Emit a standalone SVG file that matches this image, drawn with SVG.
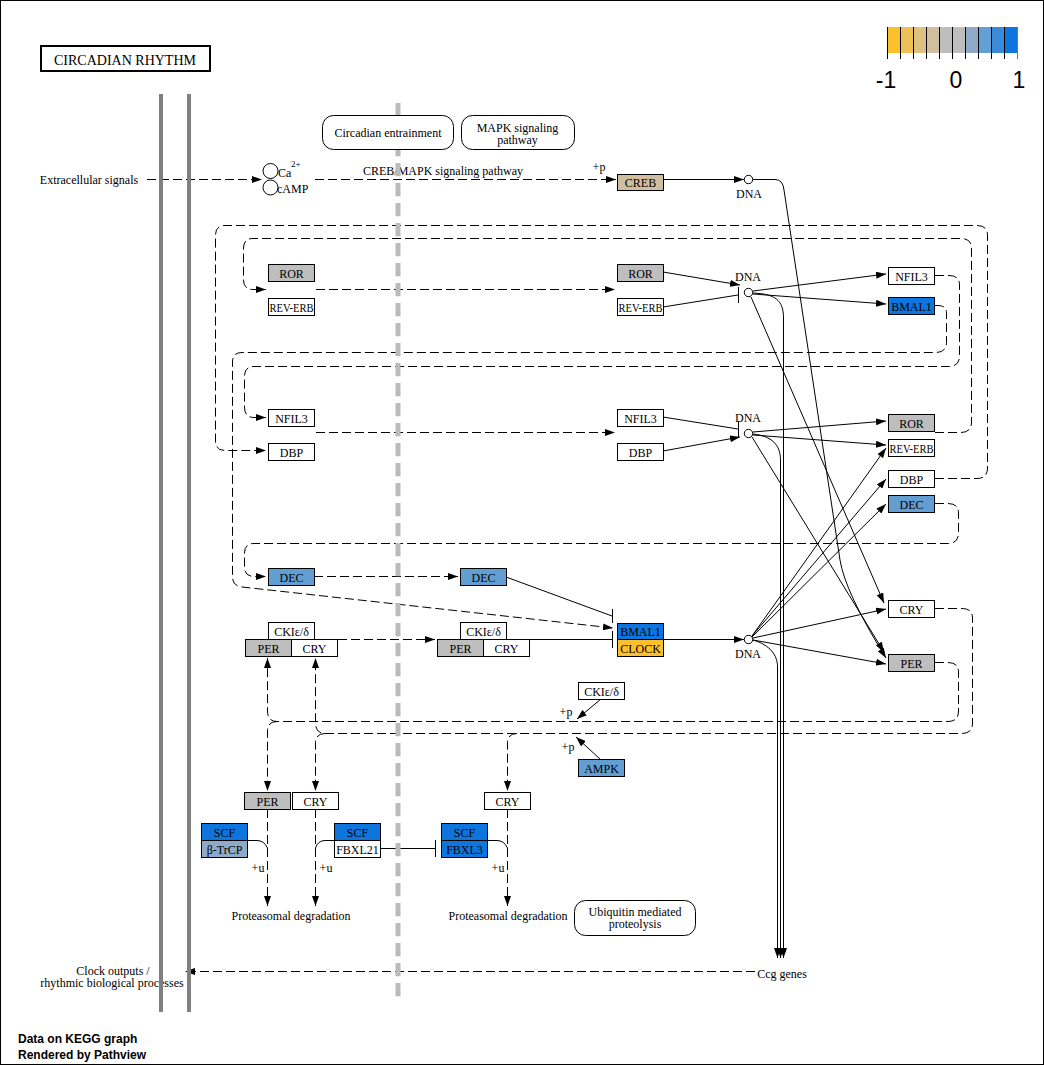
<svg xmlns="http://www.w3.org/2000/svg" width="1044" height="1065" viewBox="0 0 1044 1065">
<defs>
<marker id="ah" viewBox="0 0 10 7" refX="10" refY="3.5" markerWidth="10" markerHeight="7" markerUnits="userSpaceOnUse" orient="auto"><path d="M0,0 L10,3.5 L0,7 z" fill="#000"/></marker>
<style>
.n rect{stroke:#000;stroke-width:1}
.n text,.lbl{font-family:"Liberation Serif","Times New Roman",serif;font-size:12px;text-anchor:middle;fill:#000}
.c path{fill:none;stroke:#000;stroke-width:1}
.d{stroke-dasharray:9 4}
.a{marker-end:url(#ah)}
.g{fill:#BEBEBE}.w{fill:#fff}.b{fill:#0F75DE}.s{fill:#629ED1}.o{fill:#FDBF2B}.t{fill:#CFBF9E}.p{fill:#8FAAC7}
.map rect{fill:#fff;stroke:#000;stroke-width:1}
.foot{font-family:"Liberation Sans",Arial,sans-serif;font-size:12px;font-weight:bold;fill:#000}
.leg{font-family:"Liberation Sans",Arial,sans-serif;font-size:23px;text-anchor:middle;fill:#000}
</style>
</defs>
<rect x="0" y="0" width="1044" height="1065" fill="#fff"/>
<rect x="0.5" y="0.5" width="1043" height="1064" fill="none" stroke="#000"/>

<g id="title"><rect x="41" y="46" width="169" height="25" fill="#fff" stroke="#000" stroke-width="2"/><text x="125" y="65" style="font-family:'Liberation Serif',serif;font-size:14px;text-anchor:middle">CIRCADIAN RHYTHM</text></g>

<g id="legend">
<rect x="887" y="27" width="13" height="26" fill="#FCC02A"/>
<rect x="900" y="27" width="13" height="26" fill="#EDC158"/>
<rect x="913" y="27" width="13" height="26" fill="#DEC07F"/>
<rect x="926" y="27" width="13" height="26" fill="#CFBF9E"/>
<rect x="939" y="27" width="13" height="26" fill="#BEBEBE"/>
<rect x="952" y="27" width="13" height="26" fill="#BEBEBE"/>
<rect x="965" y="27" width="13" height="26" fill="#8FAAC7"/>
<rect x="978" y="27" width="13" height="26" fill="#629FD3"/>
<rect x="991" y="27" width="13" height="26" fill="#3A8ADA"/>
<rect x="1004" y="27" width="13" height="26" fill="#0F75DE"/>
<path d="M887.5,27V59M900.5,27V59M913.5,27V59M926.5,27V59M939.5,27V59M952.5,27V59M965.5,27V59M978.5,27V59M991.5,27V59M1004.5,27V59" stroke="#000" fill="none"/>
<path d="M1017.5,27V59" stroke="#777" fill="none"/>
<text class="leg" x="886" y="88">-1</text><text class="leg" x="956" y="88">0</text><text class="leg" x="1019" y="88">1</text>
</g>

<g id="connectors" class="c">
<path class="d a" d="M147,179.5 L262,179.5"/>
<path class="d a" d="M315,179.5 L616,179.5"/>
<path class="a" d="M663,179.5 L744,179.5"/>
<path class="a" d="M753,179.5 L775,179.5 Q783,179.5 784,190 L840,560 Q845,592 886,658"/>
<path class="a" d="M663,272 L740,285"/>
<path d="M663,307 L738,295 M738.5,287 L738.5,303"/>
<path class="a" d="M753,291 L886,274"/>
<path class="a" d="M753,294 L886,304"/>
<path class="a" d="M751,297 L884,603"/>
<path class="a" d="M753,293 C775,294 783.5,300 783.5,318 L783.5,958"/>
<path d="M663,417 L738,429 M738.5,421 L738.5,437"/>
<path class="a" d="M663,451 L740,437"/>
<path class="a" d="M753,432 L886,421"/>
<path class="a" d="M753,435 L886,445"/>
<path class="a" d="M752,437 L884,652"/>
<path class="a" d="M753,434 C772,436 780.5,445 780.5,460 L780.5,958"/>
<path d="M506,577 L612,616 M612.5,609 L612.5,623"/>
<path d="M529,639.5 L612,639.5 M612.5,631 L612.5,648"/>
<path class="a" d="M663,639.5 L744,639.5"/>
<path class="a" d="M752,636 L886,448"/>
<path class="a" d="M752,636 L886,479"/>
<path class="a" d="M752,637 L886,504"/>
<path class="a" d="M753,638 L886,609"/>
<path class="a" d="M753,640 L886,664"/>
<path class="a" d="M753,640 C770,645 777.5,655 777.5,667 L777.5,958"/>
<path class="d a" d="M935,478.5 L977,478.5 Q987.5,478.5 987.5,468 L987.5,235 Q987.5,225.5 977,225.5 L225,225.5 Q215.5,225.5 215.5,235 L215.5,441 Q215.5,450.5 225,450.5 L266,450.5"/>
<path class="d a" d="M935,432.5 L961,432.5 Q971.5,432.5 971.5,422 L971.5,248 Q971.5,238.5 961,238.5 L253,238.5 Q243.5,238.5 243.5,248 L243.5,280 Q243.5,289.5 253,289.5 L266,289.5"/>
<path class="d a" d="M316,289.5 L615,289.5"/>
<path class="d a" d="M935,275.5 L949,275.5 Q959.5,275.5 959.5,285 L959.5,356 Q959.5,366.5 949,366.5 L254,366.5 Q244.5,366.5 244.5,376 L244.5,407 Q244.5,417.5 254,417.5 L266,417.5"/>
<path class="d a" d="M316,432.5 L615,432.5"/>
<path class="d a" d="M935,305.5 L938,305.5 Q946.5,305.5 946.5,313 L946.5,342 Q946.5,352.5 936,352.5 L242,352.5 Q232.5,352.5 232.5,362 L232.5,577 Q232.5,586 242,587 L613,628"/>
<path class="d a" d="M935,503.5 L948,503.5 Q958.5,503.5 958.5,513 L958.5,533 Q958.5,543.5 948,543.5 L254,543.5 Q244.5,543.5 244.5,553 L244.5,567 Q244.5,576.5 254,576.5 L266,576.5"/>
<path class="d a" d="M314,576.5 L458,576.5"/>
<path class="d a" d="M338,639.5 L435,639.5"/>
<path class="d a" d="M935,662.5 L948,662.5 Q958.5,662.5 958.5,672 L958.5,711 Q958.5,721.5 948,721.5 L277,721.5 Q267.5,721.5 267.5,711 L267.5,658"/>
<path class="d a" d="M277,721.5 Q267.5,721.5 267.5,731 L267.5,791"/>
<path class="d a" d="M935,608.5 L962,608.5 Q972.5,608.5 972.5,618 L972.5,723 Q972.5,733.5 962,733.5 L325,733.5 Q315.5,733.5 315.5,723 L315.5,658"/>
<path class="d a" d="M325,733.5 Q315.5,733.5 315.5,743 L315.5,791"/>
<path class="d a" d="M517,733.5 Q507.5,733.5 507.5,743 L507.5,791"/>
<path class="a" d="M601,699 L577,719"/>
<path class="a" d="M600,759 L576,737"/>
<path class="d a" d="M267.5,809 L267.5,906"/>
<path class="d a" d="M315.5,809 L315.5,906"/>
<path class="d a" d="M507.5,809 L507.5,906"/>
<path d="M247,840.5 L257,840.5 Q264,840.5 267.5,848"/>
<path d="M334,840.5 L325,840.5 Q318,840.5 315.5,848"/>
<path d="M487,840.5 L497,840.5 Q504,840.5 507.5,848"/>
<path d="M380,848.5 L435,848.5 M435.5,840 L435.5,857"/>
<path class="d a" d="M755,971.5 L185,971.5"/>
</g>

<g id="compounds" fill="#fff" stroke="#000">
<circle cx="270.5" cy="171" r="7.5"/><circle cx="270.5" cy="187.5" r="7.5"/>
<circle cx="748.5" cy="179.5" r="4.2"/>
<circle cx="748.5" cy="292.5" r="4.2"/>
<circle cx="748.5" cy="433.5" r="4.2"/>
<circle cx="748.5" cy="639.5" r="4.2"/>
</g>

<g id="nodes" class="n">
<g id="n_ror_l"><rect class="g" x="268.5" y="264.5" width="46" height="17"/><text x="291.5" y="277.5">ROR</text></g>
<g id="n_reverb_l"><rect class="w" x="268.5" y="298.5" width="46" height="17"/><text x="291.5" y="311.5" textLength="44" lengthAdjust="spacingAndGlyphs">REV-ERB</text></g>
<g id="n_nfil3_l"><rect class="w" x="268.5" y="409.5" width="46" height="17"/><text x="291.5" y="422.5">NFIL3</text></g>
<g id="n_dbp_l"><rect class="w" x="268.5" y="443.5" width="46" height="17"/><text x="291.5" y="456.5">DBP</text></g>
<g id="n_dec_l"><rect class="s" x="268.5" y="568.5" width="46" height="17"/><text x="291.5" y="581.5">DEC</text></g>
<g id="n_ror_m"><rect class="g" x="617.5" y="264.5" width="46" height="17"/><text x="640.5" y="277.5">ROR</text></g>
<g id="n_reverb_m"><rect class="w" x="617.5" y="298.5" width="46" height="17"/><text x="640.5" y="311.5" textLength="44" lengthAdjust="spacingAndGlyphs">REV-ERB</text></g>
<g id="n_nfil3_m"><rect class="w" x="617.5" y="409.5" width="46" height="17"/><text x="640.5" y="422.5">NFIL3</text></g>
<g id="n_dbp_m"><rect class="w" x="617.5" y="443.5" width="46" height="17"/><text x="640.5" y="456.5">DBP</text></g>
<g id="n_dec_m"><rect class="s" x="460.5" y="568.5" width="46" height="17"/><text x="483.5" y="581.5">DEC</text></g>
<g id="n_creb"><rect class="t" x="617.5" y="174.5" width="46" height="16"/><text x="640.5" y="187">CREB</text></g>
<g id="n_bmal1_clock"><rect class="b" x="617.5" y="623.5" width="46" height="16"/><text x="640.5" y="636">BMAL1</text><rect class="o" x="617.5" y="639.5" width="46" height="17"/><text x="640.5" y="652.5">CLOCK</text></g>
<g id="n_nfil3_r"><rect class="w" x="888.5" y="267.5" width="46" height="17"/><text x="911.5" y="280.5">NFIL3</text></g>
<g id="n_bmal1_r"><rect class="b" x="888.5" y="297.5" width="46" height="17"/><text x="911.5" y="310.5">BMAL1</text></g>
<g id="n_ror_r"><rect class="g" x="888.5" y="414.5" width="46" height="17"/><text x="911.5" y="427.5">ROR</text></g>
<g id="n_reverb_r"><rect class="w" x="888.5" y="439.5" width="46" height="17"/><text x="911.5" y="452.5" textLength="44" lengthAdjust="spacingAndGlyphs">REV-ERB</text></g>
<g id="n_dbp_r"><rect class="w" x="888.5" y="470.5" width="46" height="17"/><text x="911.5" y="483.5">DBP</text></g>
<g id="n_dec_r"><rect class="s" x="888.5" y="495.5" width="46" height="17"/><text x="911.5" y="508.5">DEC</text></g>
<g id="n_cry_r"><rect class="w" x="888.5" y="600.5" width="46" height="17"/><text x="911.5" y="613.5">CRY</text></g>
<g id="n_per_r"><rect class="g" x="888.5" y="654.5" width="46" height="17"/><text x="911.5" y="667.5">PER</text></g>
<g id="n_complex1"><rect class="w" x="268.5" y="622.5" width="46" height="17"/><text x="291.5" y="635.5">CKIε/δ</text><rect class="g" x="245.5" y="639.5" width="46" height="17"/><text x="268.5" y="652.5">PER</text><rect class="w" x="291.5" y="639.5" width="46" height="17"/><text x="314.5" y="652.5">CRY</text></g>
<g id="n_complex2"><rect class="w" x="460.5" y="622.5" width="46" height="17"/><text x="483.5" y="635.5">CKIε/δ</text><rect class="g" x="437.5" y="639.5" width="46" height="17"/><text x="460.5" y="652.5">PER</text><rect class="w" x="483.5" y="639.5" width="46" height="17"/><text x="506.5" y="652.5">CRY</text></g>
<g id="n_cki"><rect class="w" x="578.5" y="682.5" width="46" height="17"/><text x="601.5" y="695.5">CKIε/δ</text></g>
<g id="n_ampk"><rect class="s" x="578.5" y="759.5" width="46" height="17"/><text x="601.5" y="772.5">AMPK</text></g>
<g id="n_per_b"><rect class="g" x="244.5" y="792.5" width="46" height="17"/><text x="267.5" y="805.5">PER</text></g>
<g id="n_cry_b"><rect class="w" x="292.5" y="792.5" width="46" height="17"/><text x="315.5" y="805.5">CRY</text></g>
<g id="n_cry_b2"><rect class="w" x="484.5" y="792.5" width="46" height="17"/><text x="507.5" y="805.5">CRY</text></g>
<g id="n_scf_btrcp"><rect class="b" x="201.5" y="823.5" width="46" height="17"/><text x="224.5" y="836.5">SCF</text><rect class="p" x="201.5" y="840.5" width="46" height="17"/><text x="224.5" y="853.5">β-TrCP</text></g>
<g id="n_scf_fbxl21"><rect class="b" x="334.5" y="823.5" width="46" height="17"/><text x="357.5" y="836.5">SCF</text><rect class="w" x="334.5" y="840.5" width="46" height="17"/><text x="357.5" y="853.5">FBXL21</text></g>
<g id="n_scf_fbxl3"><rect class="b" x="441.5" y="823.5" width="46" height="17"/><text x="464.5" y="836.5">SCF</text><rect class="b" x="441.5" y="840.5" width="46" height="17"/><text x="464.5" y="853.5">FBXL3</text></g>
</g>

<g id="labels">
<text class="lbl" x="89" y="183.5">Extracellular signals</text>
<text class="lbl" x="278" y="177" style="text-anchor:start">Ca</text>
<text class="lbl" x="291" y="167" style="text-anchor:start;font-size:9px">2+</text>
<text class="lbl" x="277" y="192.5" style="text-anchor:start">cAMP</text>
<text class="lbl" x="443" y="175">CREB/MAPK signaling pathway</text>
<text class="lbl" x="599" y="171">+p</text>
<text class="lbl" x="749" y="198">DNA</text>
<text class="lbl" x="748" y="281">DNA</text>
<text class="lbl" x="748" y="422">DNA</text>
<text class="lbl" x="748" y="658">DNA</text>
<text class="lbl" x="566" y="716">+p</text>
<text class="lbl" x="568" y="751">+p</text>
<text class="lbl" x="258" y="872">+u</text>
<text class="lbl" x="326" y="872">+u</text>
<text class="lbl" x="498" y="872">+u</text>
<text class="lbl" x="291" y="920">Proteasomal degradation</text>
<text class="lbl" x="508" y="920">Proteasomal degradation</text>
<text class="lbl" x="782" y="978">Ccg genes</text>
<text class="lbl" x="113" y="975">Clock outputs /</text>
<text class="lbl" x="112" y="987">rhythmic biological processes</text>
<text class="foot" x="18" y="1043">Data on KEGG graph</text>
<text class="foot" x="18" y="1059">Rendered by Pathview</text>
</g>

<g id="membranes">
<path d="M161,94 V1012 M189,94 V1012" stroke="#808080" stroke-width="4" fill="none"/>
<path d="M398,103 V997" stroke="#BBBBBB" stroke-width="5" stroke-dasharray="13.3 6.7" fill="none"/>
</g>

<g id="maps" class="map">
<g id="m_entrain"><rect x="322.5" y="115.5" width="131" height="34" rx="11"/><text class="lbl" x="388" y="136.5">Circadian entrainment</text></g>
<g id="m_mapk"><rect x="461.5" y="115.5" width="113" height="34" rx="11"/><text class="lbl" x="517.5" y="131.5">MAPK signaling</text><text class="lbl" x="517.5" y="143.5">pathway</text></g>
<g id="m_ubiq"><rect x="574.5" y="900.5" width="121" height="35" rx="11"/><text class="lbl" x="635" y="916">Ubiquitin mediated</text><text class="lbl" x="635" y="928">proteolysis</text></g>
</g>
</svg>
